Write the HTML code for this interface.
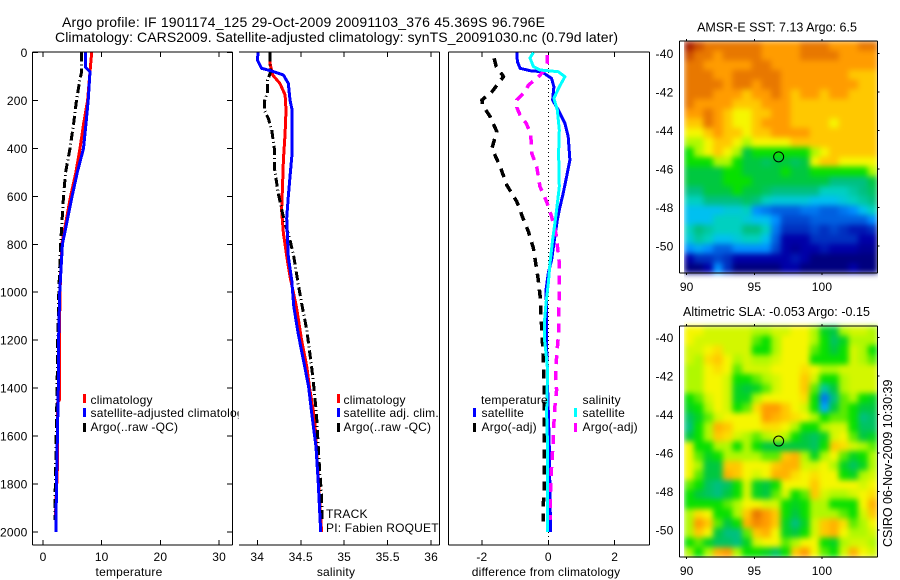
<!DOCTYPE html>
<html lang="en">
<head>
<meta charset="utf-8">
<title>Argo profile</title>
<style>
html,body{margin:0;padding:0;background:#fff;}
svg{display:block;}
text{font-family:"Liberation Sans",sans-serif;font-size:12px;fill:#000;letter-spacing:0.2px;}
.ttl{font-size:14px;letter-spacing:0;}
.mt{font-size:12.5px;letter-spacing:0;}
</style>
</head>
<body>
<svg id="fig" xmlns="http://www.w3.org/2000/svg" width="900" height="580" viewBox="0 0 900 580">
<defs>
<clipPath id="legendClip"><rect x="0" y="380" width="238.5" height="60"/></clipPath>
<filter id="soft" filterUnits="userSpaceOnUse" x="684" y="41" width="194" height="517" color-interpolation-filters="sRGB"><feGaussianBlur stdDeviation="3" edgeMode="duplicate"/></filter>
</defs>
<rect x="0" y="0" width="900" height="580" fill="#fff"/>
<g id="marks"></g>
<text class="ttl" x="62" y="27" textLength="483" lengthAdjust="spacing">Argo profile: IF 1901174_125 29-Oct-2009 20091103_376 45.369S 96.796E</text>
<text class="ttl" x="55" y="42" textLength="563" lengthAdjust="spacing">Climatology: CARS2009. Satellite-adjusted climatology: synTS_20091030.nc (0.79d later)</text>
<text x="129" y="576" text-anchor="middle">temperature</text>
<text x="336" y="576" text-anchor="middle">salinity</text>
<text x="546" y="576" text-anchor="middle">difference from climatology</text>

<g>
<rect x="83" y="394" width="3" height="9" fill="#f00"/>
<rect x="83" y="408" width="3" height="9" fill="#00f"/>
<rect x="83" y="423" width="3" height="9" fill="#000"/>
<text x="90.5" y="404">climatology</text>
<text x="90.5" y="417" clip-path="url(#legendClip)">satellite-adjusted climatology</text>
<text x="90.5" y="431">Argo(..raw -QC)</text>
</g>
<g>
<rect x="337" y="394" width="3" height="9" fill="#f00"/>
<rect x="337" y="408" width="3" height="9" fill="#00f"/>
<rect x="337" y="423" width="3" height="9" fill="#000"/>
<text x="343.5" y="404">climatology</text>
<text x="343.5" y="417">satellite adj. clim.</text>
<text x="343.5" y="431">Argo(..raw -QC)</text>
</g>
<text x="326" y="518">TRACK</text>
<text x="326" y="532">PI: Fabien ROQUET</text>
<g>
<text x="481" y="404">temperature</text>
<rect x="473" y="408" width="3" height="9" fill="#00f"/>
<rect x="473" y="423" width="3" height="9" fill="#000"/>
<text x="481.5" y="417">satellite</text>
<text x="481.5" y="431">Argo(-adj)</text>
<text x="582.5" y="404">salinity</text>
<rect x="574" y="408" width="3" height="9" fill="#0ff"/>
<rect x="574" y="423" width="3" height="9" fill="#f0f"/>
<text x="582.5" y="417">satellite</text>
<text x="582.5" y="431">Argo(-adj)</text>
</g>
<text class="mt" x="777" y="31.5" text-anchor="middle">AMSR-E SST: 7.13 Argo: 6.5</text>
<text class="mt" x="776.5" y="316" text-anchor="middle" textLength="187" lengthAdjust="spacing">Altimetric SLA: -0.053 Argo: -0.15</text>
<text transform="translate(892,547) rotate(-90)" style="font-size:12.5px;letter-spacing:0">CSIRO 06-Nov-2009 10:30:39</text>
</svg>
<script>
// ---- axis tick data ----
var depthTicks = [0, 200, 400, 600, 800, 1000, 1200, 1400, 1600, 1800, 2000];
var tempTicks = [0, 10, 20, 30];
var salTicks = [34, 34.5, 35, 35.5, 36];
var diffTicks = [-2, 0, 2];
var lonTicks = [90, 95, 100];
var latTicks = [-40, -42, -44, -46, -48, -50];

// ---- temperature panel ----
var tempClimDepth = [0, 80, 200, 300, 400, 500, 600, 800, 1000, 1200, 1450, 1460, 1700, 1950];
var tempClimValues = [8.3, 8.0, 7.6, 6.9, 6.3, 5.6, 4.7, 3.2, 2.9, 2.8, 2.8, 2.5, 2.5, 2.1];
var tempSatDepth = [0, 60, 80, 200, 300, 400, 500, 600, 800, 1000, 1200, 1400, 1600, 1800, 2000];
var tempSatValues = [7.2, 7.2, 8.0, 7.7, 7.3, 6.9, 5.85, 4.95, 3.3, 2.85, 2.65, 2.6, 2.45, 2.3, 2.2];
var tempArgoDepth = [0, 80, 110, 200, 300, 400, 500, 600, 800, 1000, 1200, 1400, 1600, 1800, 1950];
var tempArgoValues = [6.6, 6.6, 6.3, 5.7, 5.2, 4.6, 3.85, 3.5, 3.0, 2.7, 2.5, 2.4, 2.25, 2.1, 2.05];

// ---- salinity panel ----
var salClimDepth = [0, 45, 94, 129, 177, 240, 337, 448, 560, 657, 754, 852, 935, 1060, 1200, 1311, 1394, 1533, 2000];
var salClimValues = [34.146, 34.146, 34.177, 34.26, 34.32, 34.33, 34.32, 34.30, 34.29, 34.28, 34.30, 34.34, 34.376, 34.45, 34.51, 34.57, 34.60, 34.66, 34.74];
var salSatDepth = [0, 30, 66, 77, 94, 129, 198, 240, 420, 518, 601, 691, 754, 852, 949, 1060, 1171, 1283, 1394, 1505, 1645, 1784, 2000];
var salSatValues = [34.01, 34.0, 34.05, 34.166, 34.3, 34.357, 34.376, 34.4, 34.4, 34.376, 34.357, 34.338, 34.345, 34.357, 34.396, 34.42, 34.47, 34.53, 34.59, 34.626, 34.675, 34.70, 34.73];
var salArgoDepth = [0, 52, 80, 115, 170, 205, 240, 275, 323, 400, 490, 587, 670, 712, 782, 852, 963, 1046, 1158, 1241, 1325, 1394, 1505, 1700, 1853, 1950];
var salArgoValues = [34.146, 34.146, 34.154, 34.12, 34.115, 34.08, 34.08, 34.127, 34.166, 34.196, 34.2, 34.24, 34.29, 34.32, 34.376, 34.42, 34.47, 34.51, 34.57, 34.6, 34.63, 34.65, 34.68, 34.71, 34.74, 34.745];

// ---- difference panel ----
var diffTempSatDepth = [0, 38, 66, 76, 80, 108, 143, 198, 240, 295, 351, 448, 518, 587, 657, 699, 796, 866, 920, 991, 1087, 1228, 1311, 1394, 1645, 1853, 2000];
var diffTempSatValues = [-0.95, -0.93, -0.85, -0.55, -0.2, 0.1, 0.17, 0.13, 0.3, 0.5, 0.6, 0.65, 0.55, 0.45, 0.33, 0.27, 0.17, 0.1, 0, -0.07, -0.05, -0.05, -0.03, -0.02, 0.03, 0.05, 0.07];
var diffTempArgoDepth = [24, 59, 90, 101, 110, 164, 198, 220, 268, 330, 400, 476, 553, 622, 685, 747, 817, 879, 949, 1012, 1074, 1171, 1283, 1394, 1610, 1811, 1888, 1957];
var diffTempArgoValues = [-1.63, -1.57, -1.4, -1.35, -1.4, -1.7, -2.0, -1.98, -1.75, -1.55, -1.7, -1.45, -1.25, -0.95, -0.78, -0.6, -0.45, -0.38, -0.3, -0.25, -0.23, -0.19, -0.15, -0.12, -0.12, -0.12, -0.15, -0.15];
var diffSalSatDepth = [0, 23, 59, 73, 80, 101, 143, 191, 240, 323, 420, 560, 657, 712, 782, 879, 963, 1046, 1130, 1190, 1255, 1325, 1505, 1645, 2000];
var diffSalSatValues = [-0.45, -0.55, -0.45, -0.25, 0.3, 0.5, 0.33, 0.17, 0.27, 0.33, 0.31, 0.33, 0.25, 0.2, 0.13, 0.05, 0, -0.07, -0.12, -0.12, -0.07, -0.02, -0.05, -0.02, -0.02];
var diffSalArgoDepth = [10, 45, 80, 108, 136, 164, 198, 229, 261, 295, 337, 420, 476, 560, 622, 685, 754, 803, 879, 1019, 1087, 1171, 1269, 1352, 1408, 1477, 1546, 1616, 1679, 1748, 1811, 1880, 1950];
var diffSalArgoValues = [-0.03, -0.03, -0.15, -0.35, -0.6, -0.7, -0.95, -0.95, -0.85, -0.67, -0.53, -0.5, -0.35, -0.25, -0.05, 0.1, 0.23, 0.27, 0.33, 0.33, 0.31, 0.31, 0.25, 0.22, 0.25, 0.2, 0.17, 0.15, 0.12, 0.09, 0.07, 0.06, 0.05];

// ---- heatmap values (colour-scale level per cell, north to south) ----
var sstRows = [
[16,15,14,14,14,14,14,14,13,13,13,13,14,14,14,13,13,13,14,14],
[15,14,14,13,14,14,14,14,13,13,13,13,14,14,14,14,13,13,13,13],
[14,14,13,13,13,13,13,14,14,13,13,13,13,13,13,13,13,13,13,13],
[14,14,14,13,13,14,14,14,14,14,13,13,13,13,13,13,13,12,12,12],
[14,14,14,14,13,14,14,13,14,14,13,13,13,13,13,13,13,13,12,12],
[14,14,14,13,13,13,12,13,13,14,13,12,13,13,12,13,13,12,12,12],
[14,13,13,13,13,12,12,12,13,13,13,12,12,12,12,12,12,12,12,12],
[13,13,14,13,12,11,11,12,12,13,13,12,12,12,12,12,12,12,12,12],
[12,12,14,13,12,11,11,12,13,13,13,12,12,12,12,11,12,12,12,12],
[11,11,12,13,12,12,11,12,12,13,13,13,13,12,12,12,12,12,12,12],
[10,10,11,12,12,11,10,11,11,11,11,12,12,12,12,12,12,12,12,12],
[9,10,11,12,11,10,8,9,9,9,9,9,9,10,11,12,12,12,12,12],
[9,9,9,10,10,9,8,8,7.5,8,8,7.5,8,11,12,12,11,11,11,11],
[8,8,8,8,9,9,8,8,8,8,9,8,8,9,9,9,9,9,9,10],
[8,8,8,8,9,9,9,8,8,8,8,8,8,8,8,7,7,7,7,8],
[7,7,8,8,8,9,8,8,7.5,7,7,7,7,7,6,6,6,6.5,7,7.5],
[6,6,7,7,7,7,7.5,7,6,5.5,5.5,5.5,5.5,5,5,5,5.5,6,6.5,7],
[5,5,5,5,5.5,5.5,6,4,3.5,3,3,3,3.5,3.5,3,3,3.5,4,5,6],
[5,5,5,6,6,6,5.5,5,5,4,2.5,2.5,2.5,3,3,3,3,3,3,4],
[6,7,6.5,6,6,6,7,7,6,3.5,2,2,2,2.5,2,2.5,2,1.5,1.5,2],
[5.5,6.5,6,5,5,5.5,6,6,5,3,1,1,1,2,2,2,2,2,1,1],
[4,4.5,4,3,3,4,4,4,4,2.5,1,0.5,1,1,1.5,1,1,1,0.5,0.5],
[1,2,2,2.5,2,1,1,1,1,1,1,1.5,1,0,0,0,0,0,0,0],
[0,0,1,4,2,0,0,0,0,0,1,1,0,0,0,0,0,1,0,0]
];
var slaRows = [
[11,11,10.5,10.5,10.5,10.5,10.5,10,10,10.5,10.5,11,11,10,8.5,8,10,10.5,10.5,10],
[11,10.5,10.5,10.5,10.5,10.5,10.5,9.5,9,10,11,11,11,10,9,7.5,8.5,10,10,10],
[10.5,10.5,11,11.5,10.5,10.5,10.5,9,9,10,11,11,11,9.5,9,8,9,10.5,10,9],
[10.5,10,11.5,12,11,10,10.5,10,10,10.5,11,11,11,9,9,9,9,10.5,10,9.5],
[10,10,11,11.5,11,9.5,10.5,10.5,10.5,11,11,11,11.5,11,10,10,10.5,10.5,10.5,10.5],
[10,10,11,11,10.5,9,9,9.5,10,10.5,11,11,12,10.5,9,9,10,10.5,10.5,10.5],
[10,10,11,11,10.5,8.5,8,8.5,9.5,10.5,11,11,12,9.5,6.5,8,10,10.5,10.5,10.5],
[9,9.5,10.5,11,10.5,8.5,8.5,10,11,11,11,11,11.5,9,3.5,7,9.5,10,9,8.5],
[8.5,9,10,11,10.5,9,9.5,11.5,13,13,12,11,10.5,9,4.5,8,9.5,9,8,8],
[7.5,8.5,9.5,10.5,11,11,11,11,13,12.5,12,11.5,11,10,9,9.5,9.5,9,7,7.5],
[7,9,10,12.5,12,11,11,11,11.5,11.5,11,10,9,9,10,10.5,10.5,9,7.5,7.5],
[8,9,10,12,11.5,10.5,10,9.5,10,10.5,10,9,8,7.5,8.5,10.5,11,9.5,8,8.5],
[11,9,9,10,10,9,10,9,8,8,8,8,8,7.5,9,12,11.5,10.5,10,9.5],
[11,9.5,8.5,9,10,10,10,10,9.5,9.5,12,12.5,10,8.5,10,11,9.5,8.5,9,10],
[11,10,8,8,12,12,11,11,11,12,12.5,12.5,10.5,10.5,11,10,8.5,7.5,8.5,10],
[11,9.5,8,8,12.5,12,11,10.5,11,12.5,12.5,11.5,11,11.5,11,11,9,8.5,10,10.5],
[9.5,9,7.5,7,7.5,9,10.5,8.5,8,9,11,11,11,12,11,11,11,11,10.5,11],
[9,8,7.5,7,8,9,10.5,8.5,8,9.5,10.5,9,9.5,12,10.5,10,10,10.5,11,11.5],
[9,9,9,9,9.5,10,11,11,10.5,10.5,9,8.5,9,10,10,9,9,9,11,12.5],
[10,11.5,11,9,9,10,12,14,13,12,9,8,9,10,10,10,9.5,9,10.5,12],
[10,13,12,9.5,8,9,12.5,13.5,13,12,8.5,7,8.5,10.5,12,12.5,11.5,9.5,10,11],
[10,12,11,8,7,7,9.5,12,12.5,11,8.5,8,9,10.5,12,12.5,11,10,10,10.5],
[9,9.5,8.5,7.5,7.5,7,8.5,10.5,11,11,9.5,10,11,11,9,8.5,10,10.5,10.5,10],
[10,9,10,12.5,13,10,9,9,8.5,7.5,9,12,13,11,9.5,9,10.5,12.5,11,10.5]
];

var SVGNS = 'http://www.w3.org/2000/svg';
var marks = document.getElementById('marks');
function make(tag, parent) {
  var el = document.createElementNS(SVGNS, tag);
  parent.appendChild(el);
  return el;
}

// axis functions
function yDepth(d) { return 52.5 + d * 0.2397; }
function xTemp(t) { return 43 + t * 5.87; }
function xSal(s) { return 257.3 + (s - 34) * 86.9; }
function xDiff(v) { return 548.3 + v * 33.2; }
function xLon(l) { return 686.7 + (l - 90) * 13.53; }
function yLatTop(l) { return 53.5 + (-40 - l) * 19.25; }
function yLatBottom(l) { return 337.7 + (-40 - l) * 19.25; }

var colourStops = ['#00007f','#0000a8','#0030c0','#0060e0','#0090ff','#00c0f0','#00d0c0','#00c080','#00c840','#08e000','#b0f800','#f6f600','#ffc800','#ff9c00','#e87800','#cc5000','#a82000'];
function hexPart(h, i) { return parseInt(h.substr(1 + i * 2, 2), 16); }
function colour(v) {
  var clamped = Math.max(0, Math.min(colourStops.length - 1, v));
  var lo = Math.floor(clamped), hi = Math.min(colourStops.length - 1, lo + 1), f = clamped - lo;
  var out = [];
  for (var i = 0; i < 3; i++) {
    out.push(Math.round(hexPart(colourStops[lo], i) * (1 - f) + hexPart(colourStops[hi], i) * f));
  }
  return 'rgb(' + out.join(',') + ')';
}

function hLine(x1, x2, y, name) {
  var el = make('line', marks);
  el.setAttribute('x1', x1); el.setAttribute('x2', x2);
  el.setAttribute('y1', y); el.setAttribute('y2', y);
  el.setAttribute('stroke', '#000');
  el.setAttribute('stroke-width', '1');
  el.setAttribute('shape-rendering', 'crispEdges');
  
  
}
function vLine(x, y1, y2, name) {
  var el = make('line', marks);
  el.setAttribute('x1', x); el.setAttribute('x2', x);
  el.setAttribute('y1', y1); el.setAttribute('y2', y2);
  el.setAttribute('stroke', '#000');
  el.setAttribute('stroke-width', '1');
  el.setAttribute('shape-rendering', 'crispEdges');
  
  
}
function label(str, x, y, anchor, name) {
  var el = make('text', marks);
  el.setAttribute('x', x);
  el.setAttribute('y', y);
  el.setAttribute('text-anchor', anchor);
  el.textContent = str;
  
  
}
function series(depths, values, xf, colourName, width, dash, name) {
  var pts = [];
  for (var i = 0; i < depths.length; i++) {
    pts.push(xf(values[i]).toFixed(1) + ',' + yDepth(depths[i]).toFixed(1));
  }
  var el = make('polyline', marks);
  el.setAttribute('points', pts.join(' '));
  el.setAttribute('fill', 'none');
  el.setAttribute('stroke', colourName);
  el.setAttribute('stroke-width', width);
  el.setAttribute('stroke-linejoin', 'round');
  el.setAttribute('shape-rendering', 'crispEdges');
  if (dash) { el.setAttribute('stroke-dasharray', dash); }
  
  
}

function panelFrame(left, right, hasLeft, prefix) {
  hLine(left, right, 52, prefix + '-top-border');
  hLine(left, right, 545, prefix + '-bottom-border');
  if (hasLeft) { vLine(left, 52, 545, prefix + '-left-border'); }
  vLine(right, 52, 545, prefix + '-right-border');
}
function panelXTicks(ticks, xf, prefix) {
  ticks.forEach(function (t) {
    vLine(xf(t), 52, 57, prefix + '-top-tick');
    vLine(xf(t), 540, 545, prefix + '-bottom-tick');
    label(String(t), xf(t), 561, 'middle', prefix + '-tick-label');
  });
}

// temperature panel
panelFrame(32.5, 232.5, true, 'temperature-panel');
panelXTicks(tempTicks, xTemp, 'temperature-x');
depthTicks.forEach(function (d) {
  hLine(32.5, 38, yDepth(d), 'depth-left-tick');
  hLine(227, 232.5, yDepth(d), 'depth-right-tick');
  label(String(d), 27.5, yDepth(d) + 4.5, 'end', 'depth-tick-label');
});
series(tempClimDepth, tempClimValues, xTemp, '#f00', 3, null, 'temperature-climatology-line');
series(tempArgoDepth, tempArgoValues, xTemp, '#000', 3, '9 3 1 3', 'temperature-argo-line');
series(tempSatDepth, tempSatValues, xTemp, '#00f', 3, null, 'temperature-satellite-line');

// salinity panel
panelFrame(239, 439.5, false, 'salinity-panel');
panelXTicks(salTicks, xSal, 'salinity-x');
series(salClimDepth, salClimValues, xSal, '#f00', 3, null, 'salinity-climatology-line');
series(salArgoDepth, salArgoValues, xSal, '#000', 3, '9 3 1 3', 'salinity-argo-line');
series(salSatDepth, salSatValues, xSal, '#00f', 3, null, 'salinity-satellite-line');

// difference panel
panelFrame(448.5, 649.5, true, 'difference-panel');
panelXTicks(diffTicks, xDiff, 'difference-x');
var zero = make('line', marks);
zero.setAttribute('x1', xDiff(0));
zero.setAttribute('x2', xDiff(0));
zero.setAttribute('y1', 52);
zero.setAttribute('y2', 545);
zero.setAttribute('stroke', '#000');
zero.setAttribute('stroke-width', '1');
zero.setAttribute('stroke-dasharray', '1 3');
zero.setAttribute('shape-rendering', 'crispEdges');


series(diffTempArgoDepth, diffTempArgoValues, xDiff, '#000', 3.5, '9 7', 'difference-temperature-argo-line');
series(diffTempSatDepth, diffTempSatValues, xDiff, '#00f', 3, null, 'difference-temperature-satellite-line');
series(diffSalArgoDepth, diffSalArgoValues, xDiff, '#f0f', 3.5, '9 7', 'difference-salinity-argo-line');
series(diffSalSatDepth, diffSalSatValues, xDiff, '#0ff', 3, null, 'difference-salinity-satellite-line');

// maps
function drawMap(rows, top, bottom, yLat, circleLat, prefix) {
  var imgLeft = 684, imgRight = 877.5;
  var cellW = (imgRight - imgLeft) / rows[0].length;
  var cellH = (bottom - top) / rows.length;
  var group = make('g', marks);
  group.setAttribute('filter', 'url(#soft)');
  
  
  rows.forEach(function (row, r) {
    row.forEach(function (v, c) {
      var cell = make('rect', group);
      cell.setAttribute('x', imgLeft + c * cellW);
      cell.setAttribute('y', top + r * cellH);
      cell.setAttribute('width', cellW + 0.6);
      cell.setAttribute('height', cellH + 0.6);
      cell.setAttribute('fill', colour(v));
      
      
    });
  });
  hLine(679.5, imgRight, top, prefix + '-top-border');
  hLine(679.5, imgRight, bottom, prefix + '-bottom-border');
  vLine(679.5, top, bottom, prefix + '-left-border');
  vLine(imgRight, top, bottom, prefix + '-right-border');
  lonTicks.forEach(function (l) {
    vLine(xLon(l), top - 2, top, prefix + '-top-tick');
    vLine(xLon(l), bottom, bottom + 2, prefix + '-bottom-tick');
    label(String(l), xLon(l), bottom + 18, 'middle', prefix + '-lon-label');
  });
  latTicks.forEach(function (l) {
    hLine(imgRight, imgRight + 2, yLat(l), prefix + '-right-tick');
    label(String(l), 673.5, yLat(l) + 4.5, 'end', prefix + '-lat-label');
  });
  var ring = make('circle', marks);
  ring.setAttribute('cx', xLon(96.796));
  ring.setAttribute('cy', yLat(circleLat));
  ring.setAttribute('r', 5);
  ring.setAttribute('fill', 'none');
  ring.setAttribute('stroke', '#000');
  ring.setAttribute('stroke-width', '1');
  
  
}
drawMap(sstRows, 41, 273, yLatTop, -45.369, 'sst-map');
drawMap(slaRows, 326, 557, yLatBottom, -45.369, 'sla-map');
</script>
</body>
</html>
